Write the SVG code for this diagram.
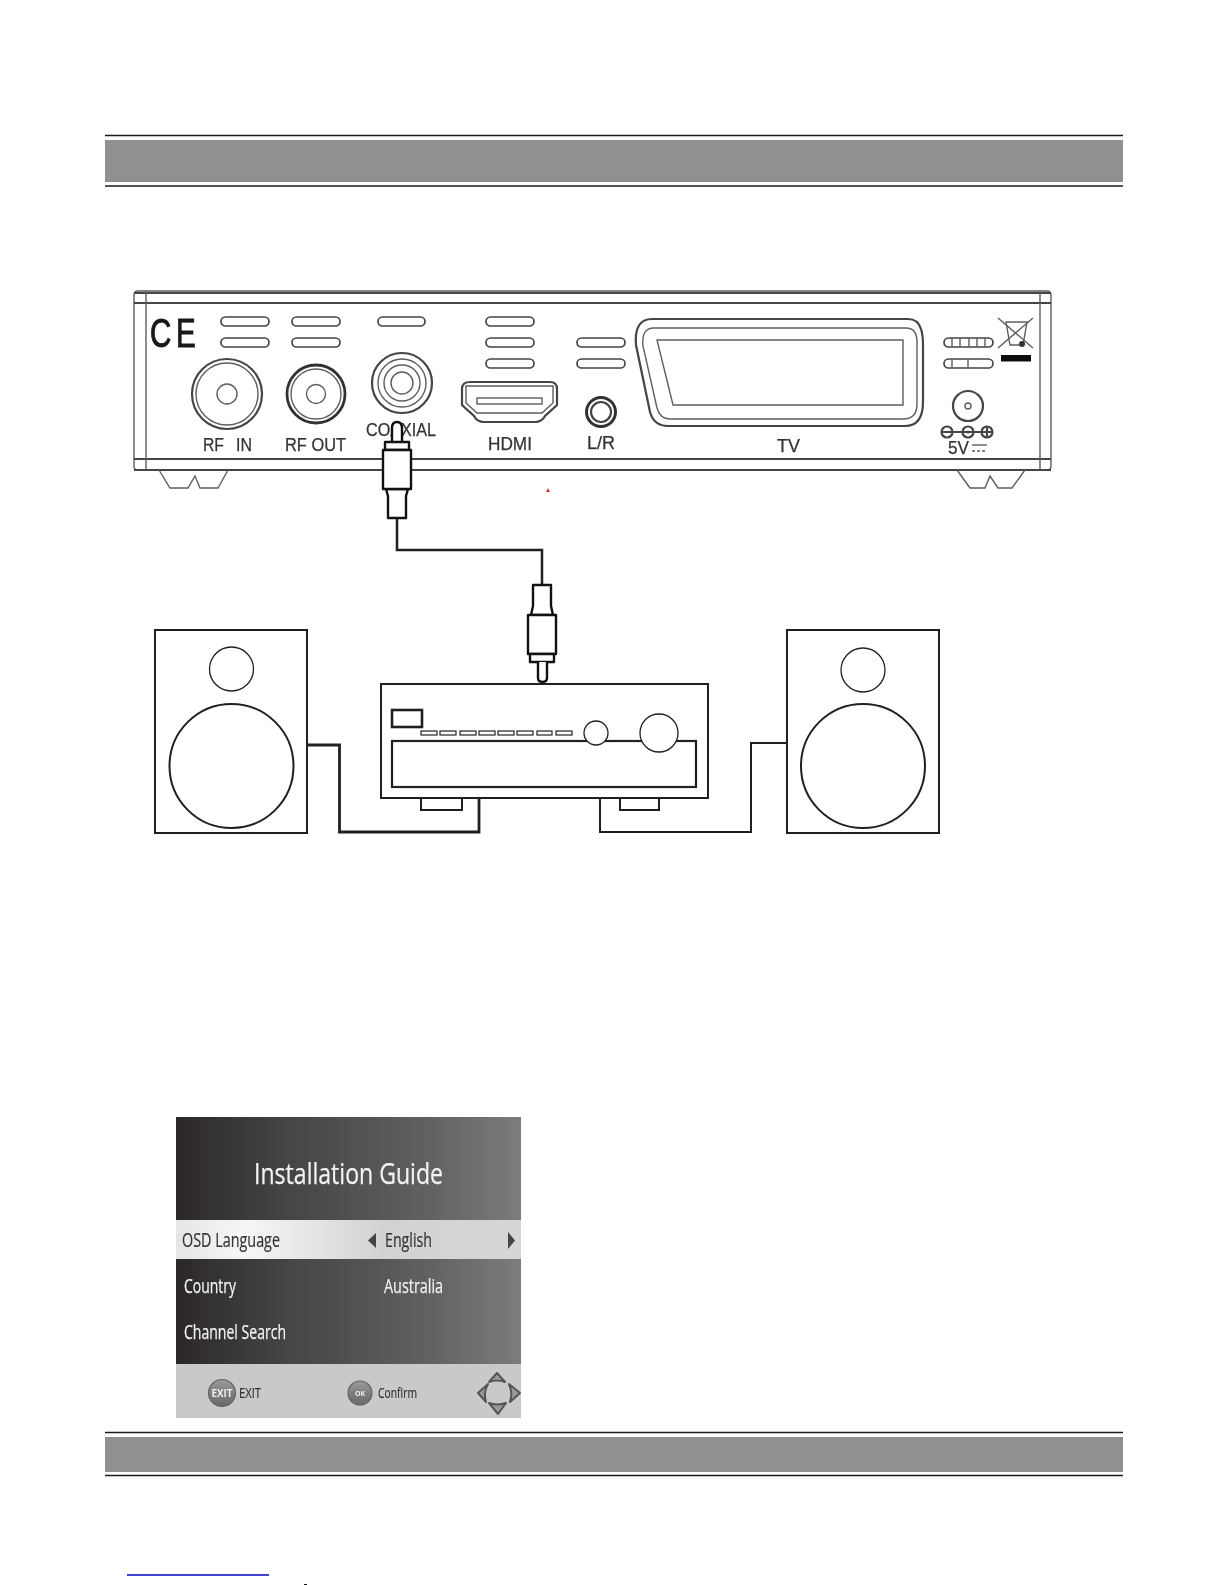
<svg xmlns="http://www.w3.org/2000/svg" width="1225" height="1585" viewBox="0 0 1225 1585">
<defs>
<style>
.rule{stroke:#1a1a1a;stroke-width:1.5;fill:none}
.bar{fill:#918f8f}
.d{fill:none;stroke:#5e5e5e;stroke-width:1.4}
.dk{fill:none;stroke:#444;stroke-width:2.2}
.slot{fill:#fff;stroke:#444;stroke-width:1.7}
.lab{font-family:"Liberation Sans",Arial,sans-serif;font-size:18px;fill:#333;stroke:#333;stroke-width:.25}
.k{fill:none;stroke:#231f20;stroke-width:2}
.kt{fill:#fff;stroke:#231f20;stroke-width:1.3}
.wire{fill:none;stroke:#231f20;stroke-linejoin:miter}
.plug{fill:#fff;stroke:#111;stroke-width:2.4;stroke-linejoin:round}
.osd{font-family:"Open Sans","Noto Sans",sans-serif;fill:#f2f2f2;stroke:#f2f2f2;stroke-width:.25}
.osd-d{font-family:"Open Sans","Noto Sans",sans-serif;fill:#333;stroke:#333;stroke-width:.2}
.btn{font-family:"Open Sans","Noto Sans",sans-serif;fill:#333;stroke:#333;stroke-width:.2}
</style>
<linearGradient id="dark" x1="0" x2="1" y1="0" y2="0">
<stop offset="0" stop-color="#2b2829"/><stop offset="0.3" stop-color="#444243"/><stop offset="0.7" stop-color="#5f5e5e"/><stop offset="1" stop-color="#7d7c7c"/>
</linearGradient>
<linearGradient id="hi" x1="0" x2="1" y1="0" y2="0">
<stop offset="0" stop-color="#e6e6e6"/><stop offset="0.2" stop-color="#f6f6f6"/><stop offset="0.6" stop-color="#d2d2d2"/><stop offset="1" stop-color="#d6d6d6"/>
</linearGradient>
<linearGradient id="ball" x1="0" x2="0" y1="0" y2="1"><stop offset="0" stop-color="#9a9a9a"/><stop offset="0.6" stop-color="#7a7a7a"/><stop offset="1" stop-color="#6a6a6a"/></linearGradient>
<filter id="soft" x="-5%" y="-5%" width="110%" height="110%"><feGaussianBlur stdDeviation="0.7"/></filter>
<filter id="soft2" x="-5%" y="-5%" width="110%" height="110%"><feGaussianBlur stdDeviation="0.5"/></filter>
</defs>
<rect width="1225" height="1585" fill="#fff"/>

<g id="header">
<line class="rule" x1="105" x2="1123" y1="135.500" y2="135.500"/>
<rect class="bar" x="105" y="140" width="1018" height="42"/>
<line class="rule" x1="105" x2="1123" y1="186" y2="186"/>
</g>

<g id="device" filter="url(#soft)">
<path class="d" d="M138 291H1047Q1051 291 1051 295V466Q1051 470 1047 470H138Q134 470 134 466V295Q134 291 138 291Z"/>
<path class="dk" d="M134 293H1051M134 303H1051M134 459H1051M134 470H1051"/>
<path class="d" d="M146 291V470M1040 291V470"/>
<path class="d" d="M159 470L170 488H188L195 476L200 488H218L228 470"/>
<path class="d" d="M957 470L970 488H985L990 476L998 488H1012L1025 470"/>
<text transform="translate(150 347) scale(.72 1)" x="0 36" y="0" font-family="'Liberation Sans',sans-serif" font-size="41" fill="#1a1a1a" stroke="#1a1a1a" stroke-width="1">CE</text>
<g id="slots">
<rect class="slot" x="221" y="317" width="48" height="9" rx="4.500"/><rect class="slot" x="221" y="338" width="48" height="9" rx="4.500"/>
<rect class="slot" x="292" y="317" width="48" height="9" rx="4.500"/><rect class="slot" x="292" y="338" width="48" height="9" rx="4.500"/>
<rect class="slot" x="378" y="317" width="47" height="9" rx="4.500"/>
<rect class="slot" x="486" y="317" width="48" height="9" rx="4.500"/><rect class="slot" x="486" y="338" width="48" height="9" rx="4.500"/><rect class="slot" x="486" y="359" width="48" height="9" rx="4.500"/>
<rect class="slot" x="577" y="338" width="48" height="9" rx="4.500"/><rect class="slot" x="577" y="359" width="48" height="9" rx="4.500"/>
<rect class="slot" x="944" y="338" width="49" height="9" rx="4.500"/><rect class="slot" x="944" y="359" width="49" height="9" rx="4.500"/>
<path class="d" d="M952 338V347M960 338V347M969 338V347M977 338V347M985 338V347M952 359V368M968 359V368"/>
</g>
<g id="rf-in"><circle class="dk" cx="227" cy="394" r="35"/><circle class="d" cx="227" cy="394" r="31"/><circle class="d" cx="227" cy="394" r="10"/></g>
<g id="rf-out"><circle cx="316" cy="394" r="29" fill="none" stroke="#333" stroke-width="2.800"/><circle class="d" cx="316" cy="394" r="25"/><circle class="d" cx="316" cy="394" r="9.500"/></g>
<g id="coaxial"><circle class="dk" cx="402" cy="383" r="30"/><circle class="d" cx="402" cy="383" r="24"/><circle class="d" cx="402" cy="383" r="18"/><circle class="d" cx="402" cy="383" r="11"/></g>
<g id="hdmi"><path class="dk" d="M470 382H550Q557 382 557 389V405L545 416Q542 422 535 422H484Q477 422 474 416L462 405V389Q462 382 470 382Z"/><path class="d" d="M466 386H553V403L542 413H477L466 403Z"/><rect class="d" x="477" y="398" width="65" height="6"/></g>
<g id="lr"><circle cx="601" cy="412" r="14.500" fill="none" stroke="#333" stroke-width="3"/><circle class="dk" cx="601" cy="412" r="10"/></g>
<g id="scart">
<path class="dk" d="M652 319H908Q918 319 921 329Q923 335 923 345V402Q923 426 905 426H668Q654 426 650 412L636 345Q634 319 652 319Z"/>
<path class="d" d="M654 328H906Q917 328 917 342V404Q917 419 903 419H670Q660 419 657 408L643 346Q641 328 654 328Z"/>
<path class="d" d="M657 340H903V405H673Z"/>
</g>
<g id="power"><circle class="dk" cx="968" cy="406" r="15"/><circle class="d" cx="968" cy="406" r="3"/>
<circle class="dk" cx="947" cy="432" r="5.500" stroke-width="1.500"/><circle class="dk" cx="968" cy="432" r="5.500" stroke-width="1.500"/><circle class="dk" cx="987" cy="432" r="5.500" stroke-width="1.500"/>
<path class="dk" stroke-width="1.500" d="M942 432H993M987 427V437"/><circle cx="968" cy="432" r="1.600" fill="#444"/>
<path class="d" d="M972 445H987"/><path class="d" stroke-dasharray="3 2" d="M972 451H987"/></g>
<g id="weee"><path class="d" d="M998 318L1033 348M1033 318L998 348"/><path class="d" d="M1006 322H1027L1023 345H1010Z"/><circle cx="1022" cy="344" r="3" fill="#333"/><rect x="1001" y="355" width="30" height="6.500" fill="#111"/></g>
<text class="lab" x="203" y="451" textLength="21" lengthAdjust="spacingAndGlyphs">RF</text>
<text class="lab" x="236" y="451" textLength="16" lengthAdjust="spacingAndGlyphs">IN</text>
<text class="lab" x="285" y="451" textLength="61" lengthAdjust="spacingAndGlyphs">RF OUT</text>
<text class="lab" x="366" y="436" textLength="70" lengthAdjust="spacingAndGlyphs">COAXIAL</text>
<text class="lab" x="488" y="450" textLength="44" lengthAdjust="spacingAndGlyphs">HDMI</text>
<text class="lab" x="587" y="449" textLength="28" lengthAdjust="spacingAndGlyphs">L/R</text>
<text class="lab" x="777" y="452" textLength="23" lengthAdjust="spacingAndGlyphs">TV</text>
<text class="lab" x="948" y="454" textLength="21" lengthAdjust="spacingAndGlyphs">5V</text>
<path d="M548 488L550 492H546Z" fill="#c8303a"/>
</g>

<g id="speaker-left">
<rect class="k" x="155" y="630" width="152" height="203"/>
<circle class="kt" cx="231.500" cy="669" r="22"/>
<circle class="k" cx="231.500" cy="766" r="62"/>
</g>
<g id="speaker-right">
<rect class="k" x="787" y="630" width="152" height="203"/>
<circle class="kt" cx="863" cy="670" r="22"/>
<circle class="k" cx="863" cy="766" r="62"/>
</g>

<g id="amplifier">
<rect class="k" x="381" y="684" width="327" height="114"/>
<rect x="392" y="741" width="304" height="46" fill="none" stroke="#231f20" stroke-width="2.200"/>
<rect x="392" y="710" width="30" height="17" fill="none" stroke="#231f20" stroke-width="2.600"/>
<g fill="#fff" stroke="#231f20" stroke-width="1.200">
<rect x="421" y="731" width="16" height="4"/><rect x="440" y="731" width="16" height="4"/><rect x="460" y="731" width="16" height="4"/><rect x="479" y="731" width="16" height="4"/><rect x="498" y="731" width="16" height="4"/><rect x="517" y="731" width="16" height="4"/><rect x="537" y="731" width="15" height="4"/><rect x="556" y="731" width="16" height="4"/>
</g>
<circle class="kt" cx="596" cy="733" r="12"/>
<circle class="kt" cx="659" cy="733" r="19"/>
<path class="k" d="M421 798V810H462V798M620 798V810H659V798"/>
</g>

<g id="connectors">
<path class="wire" stroke-width="2.800" d="M307 745H339.500V832H479V798"/>
<path class="wire" stroke-width="2" d="M600 798V832H751V743H787"/>
<path class="wire" stroke-width="2.500" d="M397 518V550H542V585"/>
</g>
<g id="plug-top">
<path class="plug" d="M392 442V428Q392 422 397 422Q402 422 402 428V442"/>
<rect class="plug" x="385" y="442" width="24" height="8"/>
<path class="plug" d="M388 518V496L386 489H408L406 496V518Z"/>
<rect class="plug" x="383" y="450" width="28" height="39"/>
</g>
<g id="plug-bottom">
<path class="plug" d="M533 585V606L531 615H553L551 606V585Z"/>
<rect class="plug" x="528" y="615" width="28" height="39"/>
<rect class="plug" x="530" y="654" width="24" height="8"/>
<path class="plug" d="M538 662V678Q538 682 542.500 682Q547 682 547 678V662"/>
</g>

<g id="osd-panel" filter="url(#soft2)">
<rect x="176" y="1117" width="345" height="247" fill="url(#dark)"/>
<rect x="176" y="1220" width="345" height="39" fill="url(#hi)"/>
<rect x="176" y="1364" width="345" height="54" fill="#c9c9c9"/>
<text class="osd" x="254" y="1184" font-size="30" textLength="189" lengthAdjust="spacingAndGlyphs">Installation Guide</text>
<text class="osd-d" x="182" y="1247" font-size="20" textLength="98" lengthAdjust="spacingAndGlyphs">OSD Language</text>
<text class="osd-d" x="385" y="1247" font-size="20" textLength="47" lengthAdjust="spacingAndGlyphs">English</text>
<path d="M368 1240.500L376 1233V1248Z" fill="#444"/>
<path d="M515 1240.500L508 1232V1249Z" fill="#444"/>
<text class="osd" x="184" y="1293" font-size="20" textLength="52" lengthAdjust="spacingAndGlyphs">Country</text>
<text class="osd" x="384" y="1293" font-size="20" textLength="59" lengthAdjust="spacingAndGlyphs">Australia</text>
<text class="osd" x="184" y="1339" font-size="20" textLength="102" lengthAdjust="spacingAndGlyphs">Channel Search</text>
<circle cx="222" cy="1393" r="13.500" fill="url(#ball)" stroke="#666" stroke-width="1.200"/>
<text x="222" y="1397" font-size="10.500" font-weight="bold" text-anchor="middle" textLength="21" lengthAdjust="spacingAndGlyphs" font-family="'Open Sans',sans-serif" fill="#eee">EXIT</text>
<text class="btn" x="239" y="1398" font-size="15" textLength="22" lengthAdjust="spacingAndGlyphs">EXIT</text>
<circle cx="360" cy="1393" r="12" fill="url(#ball)" stroke="#666" stroke-width="1.200"/>
<text x="360" y="1396" font-size="7" font-weight="bold" text-anchor="middle" font-family="'Open Sans',sans-serif" fill="#eee">OK</text>
<text class="btn" x="378" y="1398" font-size="15" textLength="39" lengthAdjust="spacingAndGlyphs">Confirm</text>
<g id="dpad" fill="#9a9a9a" stroke="#555" stroke-width="2" stroke-linejoin="round">
<path d="M489 1382L497 1373L505 1382Q497 1379 489 1382Z"/>
<path d="M489 1403Q497 1406 506 1403L498 1414Z"/>
<path d="M488 1384L478 1393L486 1402Q483 1393 488 1384Z"/>
<path d="M509 1384L520 1393L510 1402Q513 1393 509 1384Z"/>
</g>
</g>

<g id="footer">
<line class="rule" x1="105" x2="1123" y1="1432.500" y2="1432.500"/>
<rect class="bar" x="105" y="1437" width="1018" height="35"/>
<line class="rule" x1="105" x2="1123" y1="1475.500" y2="1475.500"/>
<line x1="127" x2="269" y1="1575" y2="1575" stroke="#0000c8" stroke-width="1.400"/>
<rect x="304" y="1584" width="3" height="1" fill="#111"/>
</g>
</svg>
